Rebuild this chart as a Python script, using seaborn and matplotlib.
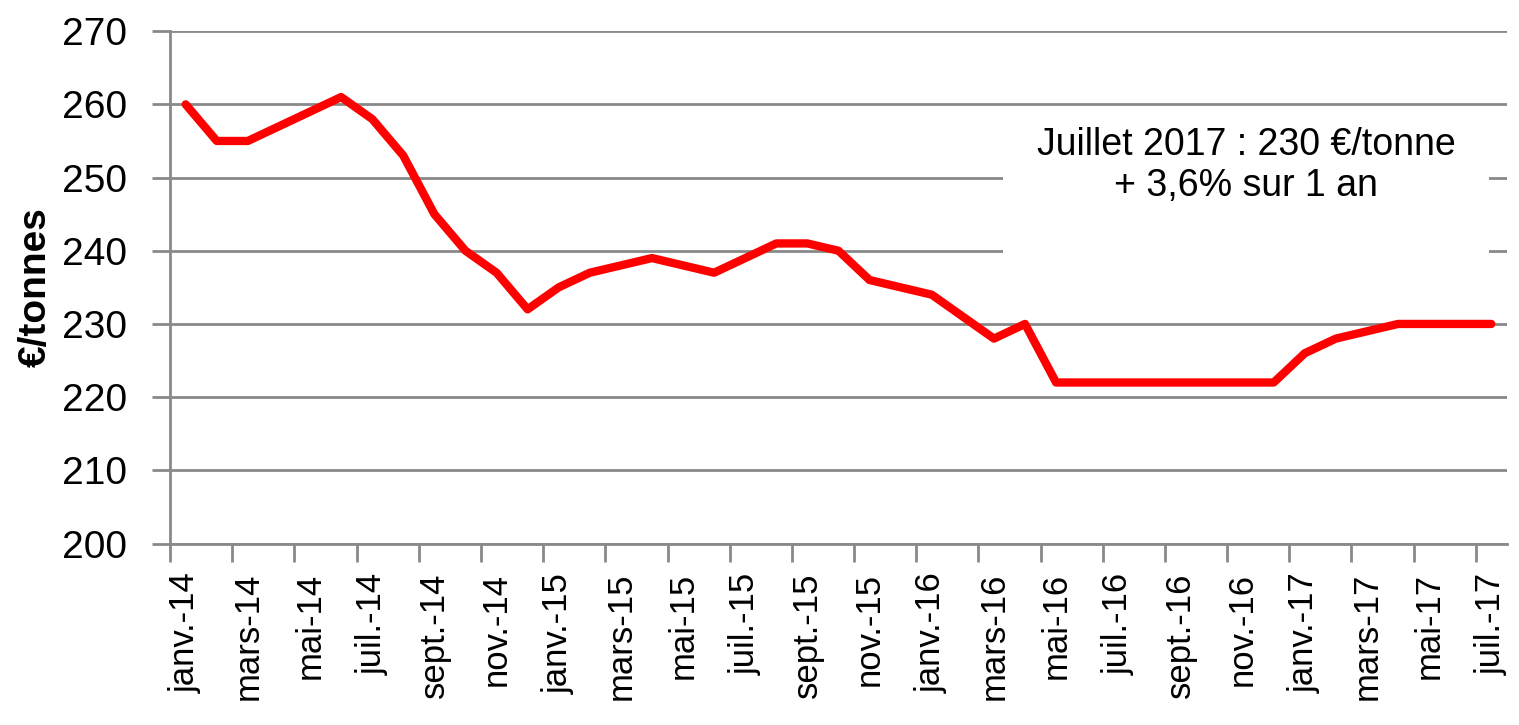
import matplotlib
matplotlib.use('Agg')
import matplotlib.pyplot as plt
from matplotlib.patches import Rectangle
import pandas as pd
import seaborn as sns

# Monthly price, janv. 2014 -> juil. 2017 (EUR/tonne)
prices_2014 = [260, 255, 255, 257, 259, 261, 258, 253, 245, 240, 237, 232]
prices_2015 = [235, 237, 238, 239, 238, 237, 239, 241, 241, 240, 236, 235]
prices_2016 = [234, 231, 228, 230, 222, 222, 222, 222, 222, 222, 222, 222]
prices_2017 = [226, 228, 229, 230, 230, 230, 230]

# Labels shown on the axis (every second month)
tick_labels = ['janv.-14', 'mars-14', 'mai-14', 'juil.-14', 'sept.-14', 'nov.-14',
               'janv.-15', 'mars-15', 'mai-15', 'juil.-15', 'sept.-15', 'nov.-15',
               'janv.-16', 'mars-16', 'mai-16', 'juil.-16', 'sept.-16', 'nov.-16',
               'janv.-17', 'mars-17', 'mai-17', 'juil.-17']
y_ticks = [200, 210, 220, 230, 240, 250, 260, 270]

annotation = 'Juillet 2017 : 230 €/tonne\n+ 3,6% sur 1 an'

# Build data frame
values = prices_2014 + prices_2015 + prices_2016 + prices_2017
df = pd.DataFrame({'month': range(len(values)), 'price': values})

sns.set_style('white')
plt.rcParams['font.family'] = ['Liberation Sans', 'DejaVu Sans']
plt.rcParams['text.color'] = 'black'
plt.rcParams['axes.labelcolor'] = 'black'
plt.rcParams['xtick.labelcolor'] = 'black'
plt.rcParams['ytick.labelcolor'] = 'black'

grey = '#898989'
fig, ax = plt.subplots(figsize=(15.19, 7.25), dpi=100)
fig.subplots_adjust(left=0.112, right=0.992, top=0.957, bottom=0.2503)

sns.lineplot(data=df, x='month', y='price', ax=ax, color='#ff0000',
             linewidth=6, solid_capstyle='round', solid_joinstyle='round', zorder=3)

n = len(values)
ax.set_xlim(-0.5, n - 0.5)
ax.set_ylim(y_ticks[0], y_ticks[-1])

# y axis
ax.set_yticks(y_ticks)
ax.tick_params(axis='y', labelsize=28, length=13, width=2, color=grey, pad=18, direction='out', left=True)
ax.grid(axis='y', color=grey, linewidth=2)
ax.set_axisbelow(True)

# x axis: tick marks at category boundaries, labels at category centres
ax.set_xticks([i - 0.5 for i in range(0, n, 2)])
ax.set_xticklabels([])
ax.set_xticks(list(range(0, n, 2)), minor=True)
ax.set_xticklabels(tick_labels, minor=True, rotation=90, fontsize=25)
ax.tick_params(axis='x', which='major', length=13, width=2, color=grey, direction='out', bottom=True)
ax.tick_params(axis='x', which='minor', length=0, pad=21, bottom=True)

for side in ['top', 'right']:
    ax.spines[side].set_visible(False)
for side in ['left', 'bottom']:
    ax.spines[side].set_color(grey)
    ax.spines[side].set_linewidth(2)

ax.set_xlabel('')
ax.set_ylabel('€/tonnes', fontsize=28, fontweight='bold', labelpad=6)

# white box behind the annotation, hiding the grid
ax.add_patch(Rectangle((0.623, 0.557), 0.364, 0.289, transform=ax.transAxes,
                       facecolor='white', edgecolor='none', zorder=2))
ax.text(0.805, 0.738, annotation, transform=ax.transAxes, ha='center', va='center',
        fontsize=27, linespacing=1.15, zorder=4)

fig.savefig('out.png', dpi=100)
